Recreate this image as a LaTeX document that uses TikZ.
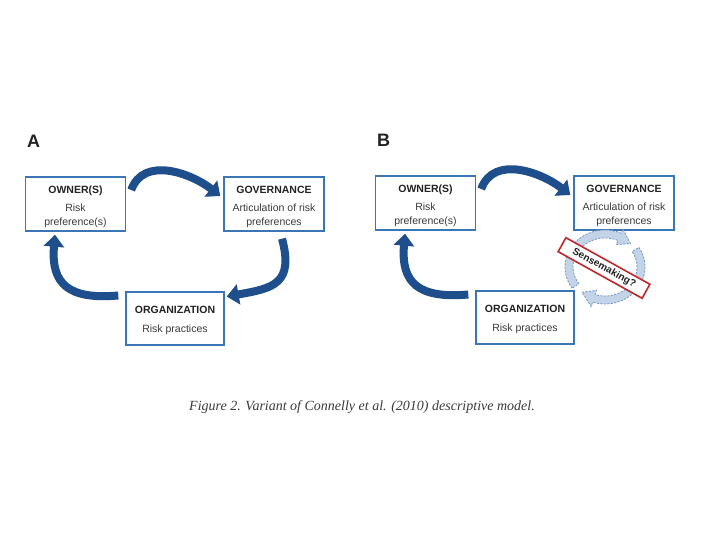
\documentclass[tikz,border=0pt]{standalone}
\usepackage{fontspec}
\setmainfont{Liberation Serif}
\setsansfont{Liberation Sans}
\usetikzlibrary{arrows.meta,calc}
\definecolor{boxblue}{HTML}{3A75B5}
\definecolor{arrowblue}{HTML}{1E4E8C}
\definecolor{lightarrow}{HTML}{C3D4E8}
\definecolor{dashblue}{HTML}{6F93C0}
\definecolor{sred}{HTML}{C0272D}
\definecolor{txt}{HTML}{3A3A3A}
\definecolor{ttl}{HTML}{222222}
\begin{document}
\begin{tikzpicture}[x=1pt,y=1pt,
  box/.style={draw=boxblue, line width=1.4pt, fill=white, minimum width=100pt,
    minimum height=54pt, inner sep=0pt},
  orgbox/.style={box, minimum width=98pt, minimum height=53pt},
  boxtext/.style={align=center, inner sep=0pt, text=txt,
    font=\sffamily\fontsize{10.5}{14}\selectfont},
  bigarrow/.style={draw=arrowblue, line width=8pt, -{Triangle[width=20pt,length=12pt]}},
  cyclearrow/.style={fill=lightarrow, draw=dashblue, line width=0.8pt, dash pattern=on 2pt off 1.5pt},
  panellabel/.style={anchor=base west, inner sep=0pt, font=\sffamily\bfseries\fontsize{18}{20}\selectfont, text=ttl},
  sensebox/.style={draw=sred, line width=1.6pt, fill=white, rotate=-29, minimum width=96pt,
    minimum height=16pt, inner sep=1pt, text=ttl, font=\sffamily\bfseries\fontsize{10}{12}\selectfont},
  caption/.style={font=\itshape\fontsize{14}{16}\selectfont, text=txt, inner sep=0pt}
]
\useasboundingbox (0,0) rectangle (720,540);
\fill[white] (0,0) rectangle (720,540);

% ---------------- Panel A ----------------
\node[panellabel] (labA) at (27,392) {A};
\node[box] (ownA) at (75.5,336) {};
\node[boxtext] (ownAt) at ([yshift=-3]ownA.center) {\textcolor{ttl}{\bfseries OWNER(S)}\\[4pt]Risk\\preference(s)};
\node[box] (govA) at (274,336) {};
\node[boxtext] (govAt) at ([yshift=-3]govA.center) {\textcolor{ttl}{\bfseries GOVERNANCE}\\[4pt]Articulation of risk\\preferences};
\node[orgbox] (orgA) at (175,221.5) {};
\node[boxtext] (orgAt) at ([yshift=-2]orgA.center) {\textcolor{ttl}{\bfseries ORGANIZATION}\\[5pt]Risk practices};

\draw[bigarrow] ([shift={(5,14)}]ownA.east) to[out=70,in=142,looseness=1.05] ([shift={(-3,8)}]govA.west);
\draw[bigarrow] ([shift={(8,-7)}]govA.south) to[out=-75,in=10,looseness=1.5] ([shift={(2,22)}]orgA.east);
\draw[bigarrow] ([shift={(-7,23)}]orgA.west) to[out=185,in=-95,looseness=1.45] ([shift={(-20.5,-3)}]ownA.south);

% ---------------- Panel B ----------------
\node[panellabel] (labB) at (377,393) {B};
\begin{scope}[shift={(350,1)}]
\node[box] (ownB) at (75.5,336) {};
\node[boxtext] (ownBt) at ([yshift=-3]ownB.center) {\textcolor{ttl}{\bfseries OWNER(S)}\\[4pt]Risk\\preference(s)};
\node[box] (govB) at (274,336) {};
\node[boxtext] (govBt) at ([yshift=-3]govB.center) {\textcolor{ttl}{\bfseries GOVERNANCE}\\[4pt]Articulation of risk\\preferences};
\node[orgbox] (orgB) at (175,221.5) {};
\node[boxtext] (orgBt) at ([yshift=-2]orgB.center) {\textcolor{ttl}{\bfseries ORGANIZATION}\\[5pt]Risk practices};
\end{scope}

\draw[bigarrow] ([shift={(5,14)}]ownB.east) to[out=70,in=142,looseness=1.05] ([shift={(-3,8)}]govB.west);
\draw[bigarrow] ([shift={(-7,23)}]orgB.west) to[out=185,in=-95,looseness=1.45] ([shift={(-20.5,-3)}]ownB.south);

% sensemaking cycle
\begin{scope}[shift={(605,273)}]
\filldraw[cyclearrow] (215:40 and 37) arc[start angle=215, end angle=66, x radius=40, y radius=37]
  -- (66:44.5 and 41.5) -- (45:36 and 33) -- (66:27.5 and 24.5) -- (66:32 and 29)
  arc[start angle=66, end angle=215, x radius=32, y radius=29] -- cycle;
\filldraw[cyclearrow] (32:40 and 37) arc[start angle=32, end angle=-108, x radius=40, y radius=37]
  -- (-108:44.5 and 41.5) -- (-130:36 and 33) -- (-108:27.5 and 24.5) -- (-108:32 and 29)
  arc[start angle=-108, end angle=32, x radius=32, y radius=29] -- cycle;
\end{scope}
\node[sensebox] (sense) at (604,272) {Sensemaking?};

% caption
\node[caption] (cap) at (362,133) {Figure 2. Variant of Connelly et al. (2010) descriptive model.};
\end{tikzpicture}
\end{document}
